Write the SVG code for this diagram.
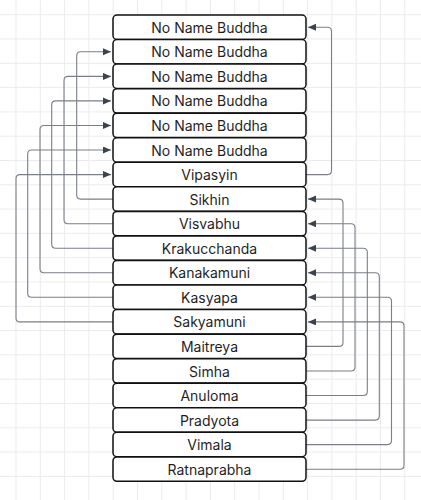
<svg xmlns="http://www.w3.org/2000/svg" width="421" height="500" viewBox="0 0 421 500">
<style>
.node rect{fill:#fff;stroke:#111;stroke-width:1.5}
.node text{font-family:Inter,"Liberation Sans",sans-serif;font-size:14px;fill:#1f1f1f;text-anchor:middle;dominant-baseline:central}
.conn path{fill:none;stroke:#7a7f87;stroke-width:1.1;marker-end:url(#arr)}
</style>
<defs>
<pattern id="grid" x="15.5" y="14.2" width="24.3" height="24.3" patternUnits="userSpaceOnUse">
<rect x="0" y="0" width="1" height="24.3" fill="#ebebeb"/>
<rect x="0" y="0" width="24.3" height="1" fill="#ebebeb"/>
</pattern>
<marker id="arr" markerUnits="userSpaceOnUse" markerWidth="9" markerHeight="8" refX="8" refY="3.5" orient="auto">
<path d="M0,0 L8,3.5 L0,7 z" fill="#3a4350"/>
</marker>
</defs>
<rect width="421" height="500" fill="#fff"/>
<rect width="421" height="500" fill="url(#grid)"/>
<g class="conn" id="connectors">
<path d="M113 199.1 H80.7 Q76.7 199.1 76.7 195.1 V55.8 Q76.7 51.8 80.7 51.8 H111"/>
<path d="M113 223.7 H68 Q64 223.7 64 219.7 V80.4 Q64 76.4 68 76.4 H111"/>
<path d="M113 248.2 H55.7 Q51.7 248.2 51.7 244.2 V104.9 Q51.7 100.9 55.7 100.9 H111"/>
<path d="M113 272.8 H44 Q40 272.8 40 268.8 V129.5 Q40 125.5 44 125.5 H111"/>
<path d="M113 297.3 H31.7 Q27.7 297.3 27.7 293.3 V154 Q27.7 150 31.7 150 H111"/>
<path d="M113 321.9 H20 Q16 321.9 16 317.9 V178.6 Q16 174.6 20 174.6 H111"/>
<path d="M306 174.6 H327.5 Q331.5 174.6 331.5 170.6 V31.3 Q331.5 27.3 327.5 27.3 H308"/>
<path d="M306 346.4 H339 Q343 346.4 343 342.4 V203.1 Q343 199.1 339 199.1 H308"/>
<path d="M306 371 H351 Q355 371 355 367 V227.7 Q355 223.7 351 223.7 H308"/>
<path d="M306 395.5 H363.3 Q367.3 395.5 367.3 391.5 V252.2 Q367.3 248.2 363.3 248.2 H308"/>
<path d="M306 420.1 H375.3 Q379.3 420.1 379.3 416.1 V276.8 Q379.3 272.8 375.3 272.8 H308"/>
<path d="M306 444.6 H387.5 Q391.5 444.6 391.5 440.6 V301.3 Q391.5 297.3 387.5 297.3 H308"/>
<path d="M306 469.2 H400 Q404 469.2 404 465.2 V325.9 Q404 321.9 400 321.9 H308"/>
</g>
<g class="node" id="n0"><rect x="113" y="15" width="193" height="24.4" rx="4"/><text x="209.5" y="27.3">No Name Buddha</text></g>
<g class="node" id="n1"><rect x="113" y="39.55" width="193" height="24.4" rx="4"/><text x="209.5" y="51.8">No Name Buddha</text></g>
<g class="node" id="n2"><rect x="113" y="64.1" width="193" height="24.4" rx="4"/><text x="209.5" y="76.4">No Name Buddha</text></g>
<g class="node" id="n3"><rect x="113" y="88.65" width="193" height="24.4" rx="4"/><text x="209.5" y="100.9">No Name Buddha</text></g>
<g class="node" id="n4"><rect x="113" y="113.2" width="193" height="24.4" rx="4"/><text x="209.5" y="125.5">No Name Buddha</text></g>
<g class="node" id="n5"><rect x="113" y="137.75" width="193" height="24.4" rx="4"/><text x="209.5" y="150">No Name Buddha</text></g>
<g class="node" id="n6"><rect x="113" y="162.3" width="193" height="24.4" rx="4"/><text x="209.5" y="174.6">Vipasyin</text></g>
<g class="node" id="n7"><rect x="113" y="186.85" width="193" height="24.4" rx="4"/><text x="209.5" y="199.1">Sikhin</text></g>
<g class="node" id="n8"><rect x="113" y="211.4" width="193" height="24.4" rx="4"/><text x="209.5" y="223.7">Visvabhu</text></g>
<g class="node" id="n9"><rect x="113" y="235.95" width="193" height="24.4" rx="4"/><text x="209.5" y="248.2">Krakucchanda</text></g>
<g class="node" id="n10"><rect x="113" y="260.5" width="193" height="24.4" rx="4"/><text x="209.5" y="272.8">Kanakamuni</text></g>
<g class="node" id="n11"><rect x="113" y="285.05" width="193" height="24.4" rx="4"/><text x="209.5" y="297.3">Kasyapa</text></g>
<g class="node" id="n12"><rect x="113" y="309.6" width="193" height="24.4" rx="4"/><text x="209.5" y="321.9">Sakyamuni</text></g>
<g class="node" id="n13"><rect x="113" y="334.15" width="193" height="24.4" rx="4"/><text x="209.5" y="346.4">Maitreya</text></g>
<g class="node" id="n14"><rect x="113" y="358.7" width="193" height="24.4" rx="4"/><text x="209.5" y="371">Simha</text></g>
<g class="node" id="n15"><rect x="113" y="383.25" width="193" height="24.4" rx="4"/><text x="209.5" y="395.5">Anuloma</text></g>
<g class="node" id="n16"><rect x="113" y="407.8" width="193" height="24.4" rx="4"/><text x="209.5" y="420.1">Pradyota</text></g>
<g class="node" id="n17"><rect x="113" y="432.35" width="193" height="24.4" rx="4"/><text x="209.5" y="444.6">Vimala</text></g>
<g class="node" id="n18"><rect x="113" y="456.9" width="193" height="24.4" rx="4"/><text x="209.5" y="469.2">Ratnaprabha</text></g>
</svg>
